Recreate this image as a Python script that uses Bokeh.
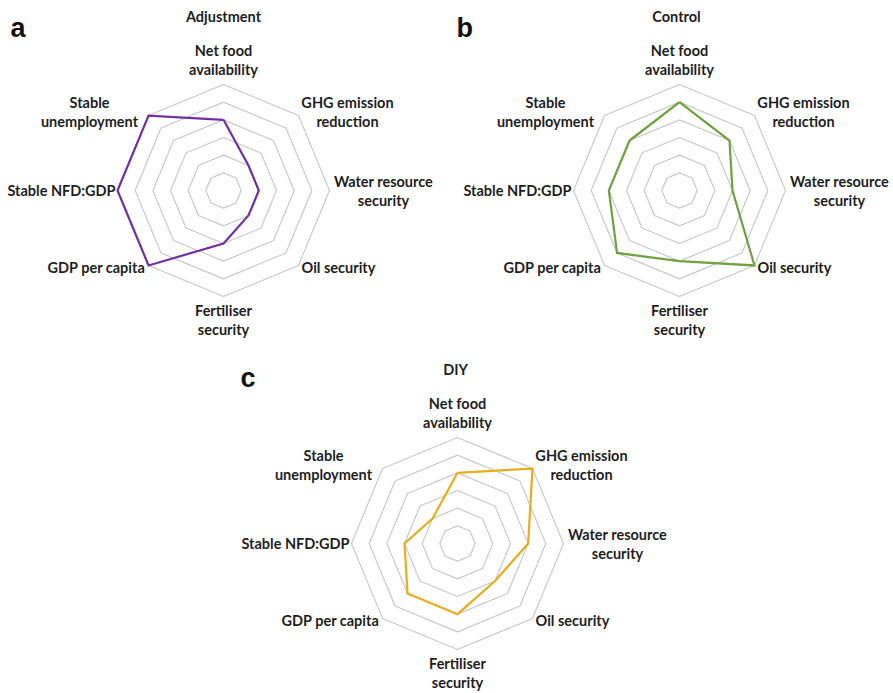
import math
from bokeh.plotting import figure
from bokeh.models import Range1d, Spacer
from bokeh.layouts import column, row
from bokeh.core.properties import value
from bokeh.embed import file_html
from bokeh.resources import INLINE

# Indicator axes, clockwise from the top
indicators = [
    "Net food\navailability",
    "GHG emission\nreduction",
    "Water resource\nsecurity",
    "Oil security",
    "Fertiliser\nsecurity",
    "GDP per capita",
    "Stable NFD:GDP",
    "Stable\nunemployment",
]

# Scenario scores (0-6 scale)
adjustment = [4, 2, 2, 2, 3, 6, 6, 6]
control = [5, 4, 3, 6, 4, 5, 4, 4]
diy = [4, 6, 4, 3, 4, 4, 3, 2]

scale_max = 6
rings = [1, 2, 3, 4, 5, 6]

R_PX = 106  # outer ring radius in screen pixels
LABEL_FONT = "Lato"
LABEL_SIZE = "14.5px"
TEXT_COLOR = "#1e1e1e"
GRID_COLOR = "#c9c9c9"

# label anchor (x, y of first line) in pixels from the centre
label_anchor = [
    (0, 140), (124, 88), (160, 9), (115, -77),
    (0, -120), (-127, -77), (-162, 0), (-134, 88),
]
LINE_GAP = 19


def angle(i):
    return math.pi / 2 - i * 2 * math.pi / len(indicators)


def polar(vals):
    xs = [v / scale_max * R_PX * math.cos(angle(i)) for i, v in enumerate(vals)]
    ys = [v / scale_max * R_PX * math.sin(angle(i)) for i, v in enumerate(vals)]
    return xs + xs[:1], ys + ys[:1]


def radar(vals, color, title, title_dx, letter, width, height, cx, cy):
    p = figure(width=width, height=height, output_backend="svg", toolbar_location=None,
               x_range=Range1d(-cx, width - cx), y_range=Range1d(cy - height, cy),
               min_border=0)
    p.axis.visible = False
    p.grid.visible = False
    p.outline_line_color = None
    p.background_fill_color = "white"

    for r in rings:
        gx, gy = polar([r] * len(indicators))
        p.line(gx, gy, line_color=GRID_COLOR, line_width=1.2)

    sx, sy = polar(vals)
    p.line(sx, sy, line_color=color, line_width=2.2, line_join="miter")

    tx, ty, tt = [], [], []
    for (ax, ay), lab in zip(label_anchor, indicators):
        for k, line in enumerate(lab.split("\n")):
            tx.append(ax)
            ty.append(ay - k * LINE_GAP)
            tt.append(line)
    p.text(tx, ty, text=tt, text_align="center", text_baseline="middle",
           text_font=value(LABEL_FONT), text_font_style="bold",
           text_font_size=LABEL_SIZE, text_color=TEXT_COLOR)

    p.text([title_dx], [174], text=[title], text_align="center",
           text_baseline="middle", text_font=value(LABEL_FONT), text_font_style="bold",
           text_font_size=LABEL_SIZE, text_color=TEXT_COLOR)

    p.text([-cx + 10], [cy - 27], text=[letter], text_align="left",
           text_baseline="alphabetic", text_font=value("Liberation Sans"),
           text_font_style="bold", text_font_size="27px", text_color="#111111")
    return p


pa = radar(adjustment, "#7030A0", "Adjustment", 0, "a", 446, 350, 223, 190)
pb = radar(control, "#70A040", "Control", -3, "b", 447, 350, 233, 190)
pc = radar(diy, "#E6AE1C", "DIY", -2, "c", 446, 343, 227, 193)

layout = column(row(pa, pb, spacing=0),
                row(Spacer(width=230, height=343), pc, spacing=0),
                spacing=0)

open("out.html", "w").write(file_html(layout, INLINE))
